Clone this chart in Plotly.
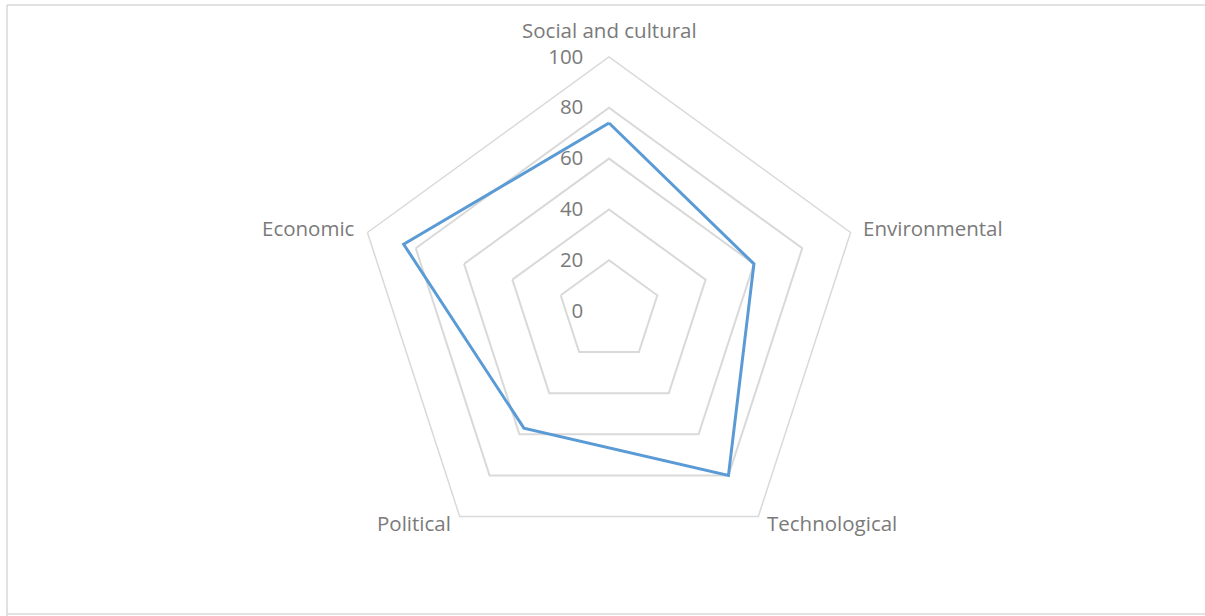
import plotly.graph_objects as go

categories = ["Social and cultural", "Environmental", "Technological", "Political", "Economic"]
values = [74, 60, 80, 57, 85]
radial_ticks = [0, 20, 40, 60, 80, 100]

W, H = 1205, 616
cx, cy, R = 609, 311, 254

fig = go.Figure()
fig.add_trace(go.Scatterpolar(
    r=values + values[:1],
    theta=categories + categories[:1],
    mode="lines",
    line=dict(color="#5b9bd5", width=3),
    hoverinfo="skip",
))

text_color = "#7a7a7a"
grid_color = "#d9d9d9"
FONT = "Open Sans"
FS = 20.5

label_pos = [
    (609, 30, "center"),
    (861, 228, "left"),
    (765, 523, "left"),
    (453, 523, "right"),
    (357, 228, "right"),
]
annotations = []
for name, (px, py, xa) in zip(categories, label_pos):
    annotations.append(dict(
        text=name, xref="paper", yref="paper",
        x=px / W, y=1 - py / H, xanchor=xa, yanchor="middle",
        showarrow=False, font=dict(family=FONT, size=FS, color=text_color),
    ))

border_col = "#d9d9d9"
shapes = [
    dict(type="line", xref="paper", yref="paper", x0=7 / W, x1=1.05, y0=1 - 5 / H, y1=1 - 5 / H,
         line=dict(color=border_col, width=1.5)),
    dict(type="line", xref="paper", yref="paper", x0=7 / W, x1=7 / W, y0=-0.05, y1=1 - 5 / H,
         line=dict(color=border_col, width=1.5)),
    dict(type="line", xref="paper", yref="paper", x0=7 / W, x1=1.05, y0=1 - 614 / H, y1=1 - 614 / H,
         line=dict(color=border_col, width=1.5)),
]

fig.update_layout(
    width=W, height=H,
    margin=dict(l=0, r=0, t=0, b=0),
    paper_bgcolor="white",
    plot_bgcolor="white",
    showlegend=False,
    font=dict(family=FONT, size=FS, color=text_color),
    polar=dict(
        domain=dict(x=[(cx - R) / W, (cx + R) / W], y=[1 - (cy + R) / H, 1 - (cy - R) / H]),
        bgcolor="white",
        gridshape="linear",
        radialaxis=dict(
            range=[0, 100],
            tickvals=radial_ticks,
            ticktext=[str(v) for v in radial_ticks],
            angle=90,
            tickangle=90,
            side="counterclockwise",
            showline=False,
            showgrid=True,
            gridcolor=grid_color,
            gridwidth=1.5,
            ticks="outside",
            ticklen=18,
            tickcolor="rgba(0,0,0,0)",
            tickfont=dict(family=FONT, size=FS, color=text_color),
        ),
        angularaxis=dict(
            categoryorder="array",
            categoryarray=categories,
            direction="clockwise",
            rotation=90,
            showgrid=False,
            showline=True,
            linecolor=grid_color,
            linewidth=1.5,
            showticklabels=False,
            ticks="",
        ),
    ),
    annotations=annotations,
    shapes=shapes,
)

fig.write_html("out.html")
